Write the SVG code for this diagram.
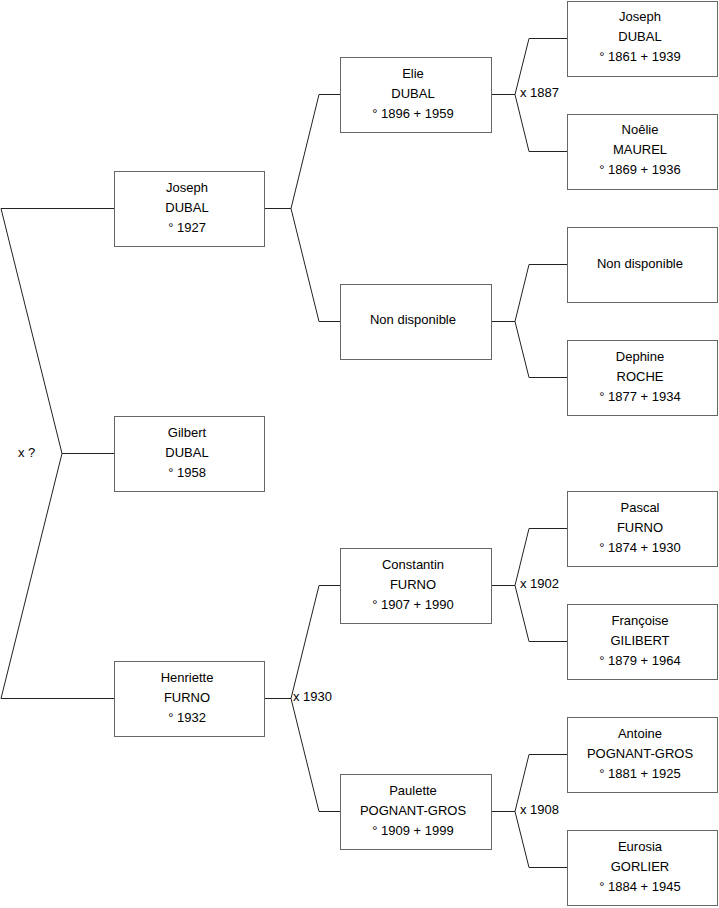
<svg xmlns="http://www.w3.org/2000/svg" width="719" height="908" viewBox="0 0 719 908">
<style>
.box{fill:#fff;stroke:#666;stroke-width:1}
.t{font-family:"Liberation Sans",Arial,sans-serif;font-size:13px;fill:#000;text-anchor:middle}
.m{font-family:"Liberation Sans",Arial,sans-serif;font-size:13px;fill:#000}
.c{fill:none;stroke:#222;stroke-width:1}
</style>
<rect width="719" height="908" fill="#fff"/>
<g id="connectors">
<path class="c" d="M114.5,208.5 H1 L62,453.5 L1,698.5 H114.5 M62,453.5 H114.5"/>
<path class="c" d="M264.5,208.5 H291 L319,94.5 H340.5 M291,208.5 L319,321.5 H340.5"/>
<path class="c" d="M264.5,698.5 H291 L319,585.5 H340.5 M291,698.5 L319,811.5 H340.5"/>
<path class="c" d="M491.5,94.5 H515 L529,38.5 H567.5 M515,94.5 L529,151.5 H567.5"/>
<path class="c" d="M491.5,321.5 H515 L529,264.5 H567.5 M515,321.5 L529,377.5 H567.5"/>
<path class="c" d="M491.5,585.5 H515 L529,528.5 H567.5 M515,585.5 L529,641.5 H567.5"/>
<path class="c" d="M491.5,811.5 H515 L529,754.5 H567.5 M515,811.5 L529,867.5 H567.5"/>
<text class="m" x="18" y="457">x ?</text>
<text class="m" x="293" y="701">x 1930</text>
<text class="m" x="520" y="97">x 1887</text>
<text class="m" x="520" y="588">x 1902</text>
<text class="m" x="520" y="814">x 1908</text>
</g>
<g id="n-joseph-1927"><rect class="box" x="114.5" y="171.5" width="150" height="75"/><text class="t" x="187" y="192">Joseph</text><text class="t" x="187" y="212">DUBAL</text><text class="t" x="187" y="232">° 1927</text></g>
<g id="n-gilbert"><rect class="box" x="114.5" y="416.5" width="150" height="75"/><text class="t" x="187" y="437">Gilbert</text><text class="t" x="187" y="457">DUBAL</text><text class="t" x="187" y="477">° 1958</text></g>
<g id="n-henriette"><rect class="box" x="114.5" y="661.5" width="150" height="75"/><text class="t" x="187" y="682">Henriette</text><text class="t" x="187" y="702">FURNO</text><text class="t" x="187" y="722">° 1932</text></g>
<g id="n-elie"><rect class="box" x="340.5" y="57.5" width="151" height="75"/><text class="t" x="413" y="78">Elie</text><text class="t" x="413" y="98">DUBAL</text><text class="t" x="413" y="118">° 1896 + 1959</text></g>
<g id="n-nd1"><rect class="box" x="340.5" y="284.5" width="151" height="75"/><text class="t" x="413" y="324">Non disponible</text></g>
<g id="n-constantin"><rect class="box" x="340.5" y="548.5" width="151" height="75"/><text class="t" x="413" y="569">Constantin</text><text class="t" x="413" y="589">FURNO</text><text class="t" x="413" y="609">° 1907 + 1990</text></g>
<g id="n-paulette"><rect class="box" x="340.5" y="774.5" width="151" height="75"/><text class="t" x="413" y="795">Paulette</text><text class="t" x="413" y="815">POGNANT-GROS</text><text class="t" x="413" y="835">° 1909 + 1999</text></g>
<g id="n-joseph-1861"><rect class="box" x="567.5" y="1.5" width="150" height="75"/><text class="t" x="640" y="21">Joseph</text><text class="t" x="640" y="41">DUBAL</text><text class="t" x="640" y="61">° 1861 + 1939</text></g>
<g id="n-noelie"><rect class="box" x="567.5" y="114.5" width="150" height="75"/><text class="t" x="640" y="134">Noêlie</text><text class="t" x="640" y="154">MAUREL</text><text class="t" x="640" y="174">° 1869 + 1936</text></g>
<g id="n-nd2"><rect class="box" x="567.5" y="227.5" width="150" height="75"/><text class="t" x="640" y="268">Non disponible</text></g>
<g id="n-dephine"><rect class="box" x="567.5" y="340.5" width="150" height="75"/><text class="t" x="640" y="361">Dephine</text><text class="t" x="640" y="381">ROCHE</text><text class="t" x="640" y="401">° 1877 + 1934</text></g>
<g id="n-pascal"><rect class="box" x="567.5" y="491.5" width="150" height="75"/><text class="t" x="640" y="512">Pascal</text><text class="t" x="640" y="532">FURNO</text><text class="t" x="640" y="552">° 1874 + 1930</text></g>
<g id="n-francoise"><rect class="box" x="567.5" y="604.5" width="150" height="75"/><text class="t" x="640" y="625">Françoise</text><text class="t" x="640" y="645">GILIBERT</text><text class="t" x="640" y="665">° 1879 + 1964</text></g>
<g id="n-antoine"><rect class="box" x="567.5" y="717.5" width="150" height="75"/><text class="t" x="640" y="738">Antoine</text><text class="t" x="640" y="758">POGNANT-GROS</text><text class="t" x="640" y="778">° 1881 + 1925</text></g>
<g id="n-eurosia"><rect class="box" x="567.5" y="830.5" width="150" height="75"/><text class="t" x="640" y="851">Eurosia</text><text class="t" x="640" y="871">GORLIER</text><text class="t" x="640" y="891">° 1884 + 1945</text></g>
</svg>
